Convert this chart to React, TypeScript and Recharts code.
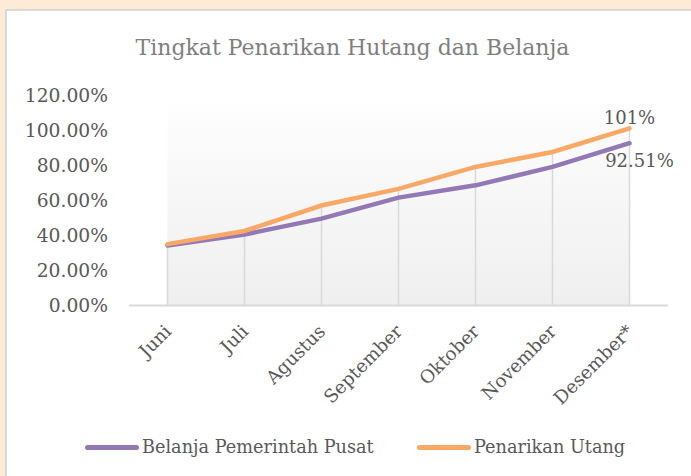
import React from "react";
import { LineChart, Line, XAxis, YAxis, ReferenceLine, ReferenceArea, LabelList } from "recharts";

const months = ["Juni", "Juli", "Agustus", "September", "Oktober", "November", "Desember*"];
const belanja = [0.342, 0.405, 0.495, 0.615, 0.685, 0.79, 0.9251];
const penarikan = [0.35, 0.425, 0.57, 0.665, 0.79, 0.875, 1.01];
const yTicks = [0, 0.2, 0.4, 0.6, 0.8, 1.0, 1.2];
const belanjaLabel = "92.51%";
const penarikanLabel = "101%";
const seriesNames = ["Belanja Pemerintah Pusat", "Penarikan Utang"];
const seriesColors = ["#9279B6", "#F9A866"];
const legendLefts = [85, 417];

const data = months.map((m, i) => ({ month: m, belanja: belanja[i], penarikan: penarikan[i] }));

const FONT = "'DejaVu Serif', serif";

const XTick = (props: any) => {
  const { x, y, payload } = props;
  return (
    <g transform={`translate(${x + 5},${y + 19})`}>
      <text textAnchor="end" transform="rotate(-45)" fill="#595959" fontSize={18.3} fontFamily={FONT}>
        {payload.value}
      </text>
    </g>
  );
};

const makeLabel = (text: string, dx: number, dy: number) => (props: any) => {
  const { x, y, index } = props;
  if (index !== months.length - 1) return null;
  return (
    <text x={x + dx} y={y + dy} textAnchor="middle" fill="#595959" fontSize={18} fontFamily={FONT}>
      {text}
    </text>
  );
};

export default function App() {
  return (
    <div style={{ position: "absolute", left: 0, top: 0, width: 691, height: 476, background: "#FDEBD7", overflow: "hidden" }}>
      <svg width={0} height={0} style={{ position: "absolute" }}>
        <defs>
          <linearGradient id="plotGrad" x1="0" y1="0" x2="0" y2="1">
            <stop offset="0" stopColor="#ffffff" />
            <stop offset="0.2" stopColor="#fbfbfb" />
            <stop offset="1" stopColor="#efefef" />
          </linearGradient>
        </defs>
      </svg>
      <div style={{ position: "absolute", left: 5, top: 9, width: 720, height: 500, background: "#ffffff", border: "2px solid #d9d9d9" }} />
      <div style={{ position: "absolute", left: 0, top: 35, width: 705, textAlign: "center", fontFamily: FONT, fontSize: 22, color: "#7f7f7f", whiteSpace: "nowrap" }}>
        Tingkat Penarikan Hutang dan Belanja
      </div>
      <div style={{ position: "absolute", left: 0, top: 0 }}>
        <LineChart width={691} height={476} data={data} margin={{ top: 95, right: 23, bottom: 70.5, left: 0 }}>
          <XAxis
            dataKey="month"
            padding={{ left: 38.5, right: 38.5 }}
            axisLine={{ stroke: "#d9d9d9", strokeWidth: 2 }}
            tickLine={false}
            height={100}
            interval={0}
            tick={<XTick />}
          />
          <YAxis
            domain={[0, 1.2]}
            ticks={yTicks}
            width={129}
            axisLine={false}
            tickLine={false}
            tickSize={0}
            tickMargin={21}
            tick={{ fill: "#595959", fontSize: 18.7, fontFamily: FONT }}
            tickFormatter={(v: number) => (v * 100).toFixed(2) + "%"}
          />
          <ReferenceArea y1={0} y2={1.2} fill="url(#plotGrad)" fillOpacity={1} stroke="none" />
          {months.map((m, i) => (
            <ReferenceLine
              key={m}
              segment={[{ x: m, y: 0 }, { x: m, y: Math.max(belanja[i], penarikan[i]) }]}
              stroke="#d9d9d9"
              strokeWidth={1.5}
            />
          ))}
          <Line dataKey="belanja" name={seriesNames[0]} stroke={seriesColors[0]} strokeWidth={4.5} dot={false} isAnimationActive={false} strokeLinecap="round">
            <LabelList dataKey="belanja" content={makeLabel(belanjaLabel, 10, 24)} />
          </Line>
          <Line dataKey="penarikan" name={seriesNames[1]} stroke={seriesColors[1]} strokeWidth={4.5} dot={false} isAnimationActive={false} strokeLinecap="round">
            <LabelList dataKey="penarikan" content={makeLabel(penarikanLabel, 0, -4)} />
          </Line>
        </LineChart>
      </div>
      {seriesNames.map((n, i) => (
        <div key={n} style={{ position: "absolute", left: legendLefts[i], top: 437, display: "flex", alignItems: "center", fontFamily: FONT, fontSize: 17.7, color: "#595959", whiteSpace: "nowrap" }}>
          <div style={{ width: 54, height: 5, borderRadius: 3, background: seriesColors[i], marginRight: 3 }} />
          <span>{n}</span>
        </div>
      ))}
    </div>
  );
}
